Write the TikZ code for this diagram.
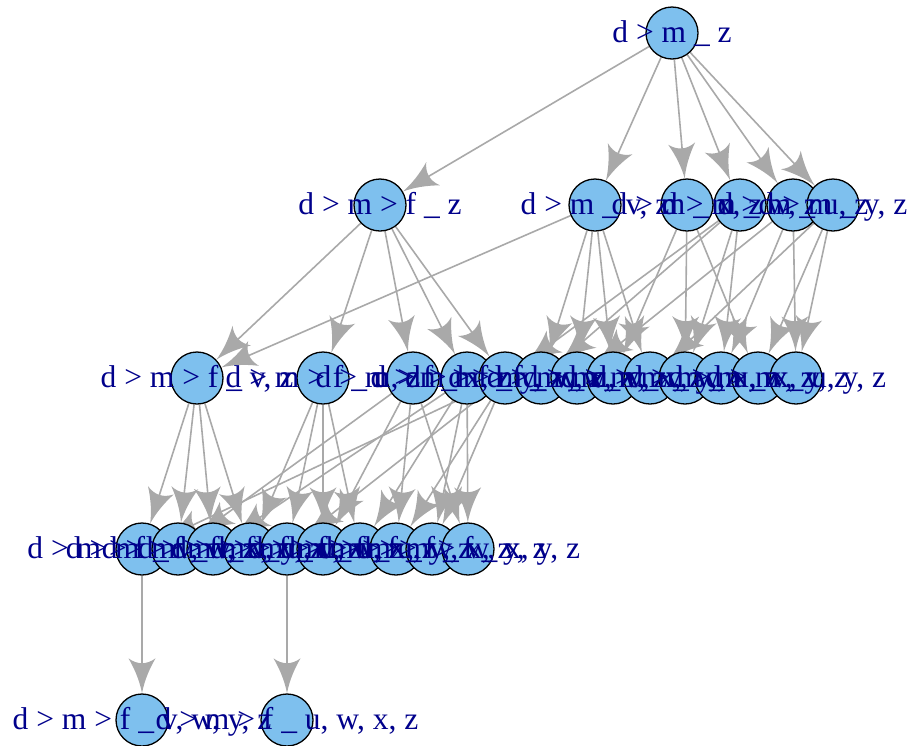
\documentclass[tikz,border=0pt]{standalone}
\usepackage{fontspec}
\setmainfont{Liberation Serif}
\usetikzlibrary{arrows.meta}
\pgfdeclarelayer{edgelayer}
\pgfdeclarelayer{labellayer}
\pgfsetlayers{edgelayer,main,labellayer}
\definecolor{vfill}{HTML}{7EC0EE}
\definecolor{lblue}{HTML}{00008B}
\definecolor{egray}{HTML}{A9A9A9}
\pgfdeclarearrow{
  name = IGArrow,
  setup code = {
    \pgfarrowssettipend{0pt}
    \pgfarrowssetbackend{-35pt}
    \pgfarrowssetlineend{-23pt}
    \pgfarrowshullpoint{0pt}{0pt}
    \pgfarrowshullpoint{-35pt}{13.5pt}
    \pgfarrowshullpoint{-35pt}{-13.5pt}
  },
  drawing code = {
    \pgfpathmoveto{\pgfpoint{0pt}{0pt}}
    \pgfpathcurveto{\pgfpoint{-11pt}{2pt}}{\pgfpoint{-23pt}{6.5pt}}{\pgfpoint{-35pt}{13.5pt}}
    \pgfpathcurveto{\pgfpoint{-28.5pt}{4.5pt}}{\pgfpoint{-28.5pt}{-4.5pt}}{\pgfpoint{-35pt}{-13.5pt}}
    \pgfpathcurveto{\pgfpoint{-23pt}{-6.5pt}}{\pgfpoint{-11pt}{-2pt}}{\pgfpoint{0pt}{0pt}}
    \pgfpathclose
    \pgfusepathqfill
  }
}
\begin{document}
\begin{tikzpicture}[x=1pt,y=-1pt,
  vtx/.style={circle,draw=black,fill=vfill,line width=1.3pt,minimum size=52pt,inner sep=0pt},
  lbl/.style={text=lblue,font=\fontsize{31.5}{31.5}\selectfont,inner sep=0pt,text height=21pt,text depth=3pt},
  edg/.style={draw=egray,fill=egray,line width=1.6pt,-IGArrow}]
\useasboundingbox (0,0) rectangle (907,745);
% vertices
\node[vtx] (A) at (672,33) {};
\node[vtx] (B1) at (380,205) {};
\node[vtx] (C1) at (595,205) {};
\node[vtx] (C2) at (687,205) {};
\node[vtx] (C3) at (740,205) {};
\node[vtx] (C4) at (793,205) {};
\node[vtx] (C5) at (833,205) {};
\node[vtx] (P1) at (197,378) {};
\node[vtx] (P2) at (323,378) {};
\node[vtx] (P3) at (413,378) {};
\node[vtx] (P4) at (467,378) {};
\node[vtx] (P5) at (505,378) {};
\node[vtx] (R1) at (541,378) {};
\node[vtx] (R2) at (577,378) {};
\node[vtx] (R3) at (613,378) {};
\node[vtx] (R4) at (650,378) {};
\node[vtx] (R5) at (685,378) {};
\node[vtx] (R6) at (721,378) {};
\node[vtx] (R7) at (758,378) {};
\node[vtx] (R8) at (796,378) {};
\node[vtx] (D1) at (142,549) {};
\node[vtx] (D2) at (178,549) {};
\node[vtx] (D3) at (213,549) {};
\node[vtx] (D4) at (250,549) {};
\node[vtx] (D5) at (287,549) {};
\node[vtx] (D6) at (323,549) {};
\node[vtx] (D7) at (360,549) {};
\node[vtx] (D8) at (396,549) {};
\node[vtx] (D9) at (432,549) {};
\node[vtx] (D10) at (468,549) {};
\node[vtx] (E1) at (142,720) {};
\node[vtx] (E2) at (287,720) {};
% edges
\begin{pgfonlayer}{edgelayer}
\foreach \t in {B1,C1,C2,C3,C4,C5} \draw[edg] (A) -- (\t);
\foreach \t in {P1,P2,P3,P4,P5} \draw[edg] (B1) -- (\t);
\foreach \t in {P1,R1,R2,R3,R4} \draw[edg] (C1) -- (\t);
\foreach \t in {R3,R5,R7} \draw[edg] (C2) -- (\t);
\foreach \t in {P5,R1,R5,R6} \draw[edg] (C3) -- (\t);
\foreach \t in {R2,R6,R8} \draw[edg] (C4) -- (\t);
\foreach \t in {R4,R7,R8} \draw[edg] (C5) -- (\t);
\foreach \t in {D1,D2,D3,D4} \draw[edg] (P1) -- (\t);
\foreach \t in {D4,D5,D6,D7} \draw[edg] (P2) -- (\t);
\foreach \t in {D2,D6,D8,D10} \draw[edg] (P3) -- (\t);
\foreach \t in {D3,D7,D9,D10} \draw[edg] (P4) -- (\t);
\foreach \t in {D1,D5,D8,D9} \draw[edg] (P5) -- (\t);
\draw[edg] (D1) -- (E1);
\draw[edg] (D5) -- (E2);
\end{pgfonlayer}
% labels
\begin{pgfonlayer}{labellayer}
\node[lbl] (A-l) at (A) {d > m \_ z};
\node[lbl] (B1-l) at (B1) {d > m > f \_ z};
\node[lbl] (C1-l) at (C1) {d > m \_ v, z};
\node[lbl] (C2-l) at (C2) {d > m \_ x, z};
\node[lbl] (C3-l) at (C3) {d > m \_ w, z};
\node[lbl] (C4-l) at (C4) {d > m \_ u, z};
\node[lbl] (C5-l) at (C5) {d > m \_ y, z};
\node[lbl] (P1-l) at (P1) {d > m > f \_ v, z};
\node[lbl] (P2-l) at (P2) {d > m > f \_ u, z};
\node[lbl] (P3-l) at (P3) {d > m > f \_ x, z};
\node[lbl] (P4-l) at (P4) {d > m > f \_ y, z};
\node[lbl] (P5-l) at (P5) {d > m > f \_ w, z};
\node[lbl] (R1-l) at (R1) {d > m \_ v, w, z};
\node[lbl] (R2-l) at (R2) {d > m \_ u, v, z};
\node[lbl] (R3-l) at (R3) {d > m \_ v, x, z};
\node[lbl] (R4-l) at (R4) {d > m \_ v, y, z};
\node[lbl] (R5-l) at (R5) {d > m \_ w, x, z};
\node[lbl] (R6-l) at (R6) {d > m \_ u, w, z};
\node[lbl] (R7-l) at (R7) {d > m \_ x, y, z};
\node[lbl] (R8-l) at (R8) {d > m \_ u, y, z};
\node[lbl] (D1-l) at (D1) {d > m > f \_ v, w, z};
\node[lbl] (D2-l) at (D2) {d > m > f \_ v, x, z};
\node[lbl] (D3-l) at (D3) {d > m > f \_ v, y, z};
\node[lbl] (D4-l) at (D4) {d > m > f \_ u, v, z};
\node[lbl] (D5-l) at (D5) {d > m > f \_ u, w, z};
\node[lbl] (D6-l) at (D6) {d > m > f \_ u, x, z};
\node[lbl] (D7-l) at (D7) {d > m > f \_ u, y, z};
\node[lbl] (D8-l) at (D8) {d > m > f \_ w, x, z};
\node[lbl] (D9-l) at (D9) {d > m > f \_ w, y, z};
\node[lbl] (D10-l) at (D10) {d > m > f \_ x, y, z};
\node[lbl] (E1-l) at (E1) {d > m > f \_ v, w, y, z};
\node[lbl] (E2-l) at (E2) {d > m > f \_ u, w, x, z};
\end{pgfonlayer}
\end{tikzpicture}
\end{document}
